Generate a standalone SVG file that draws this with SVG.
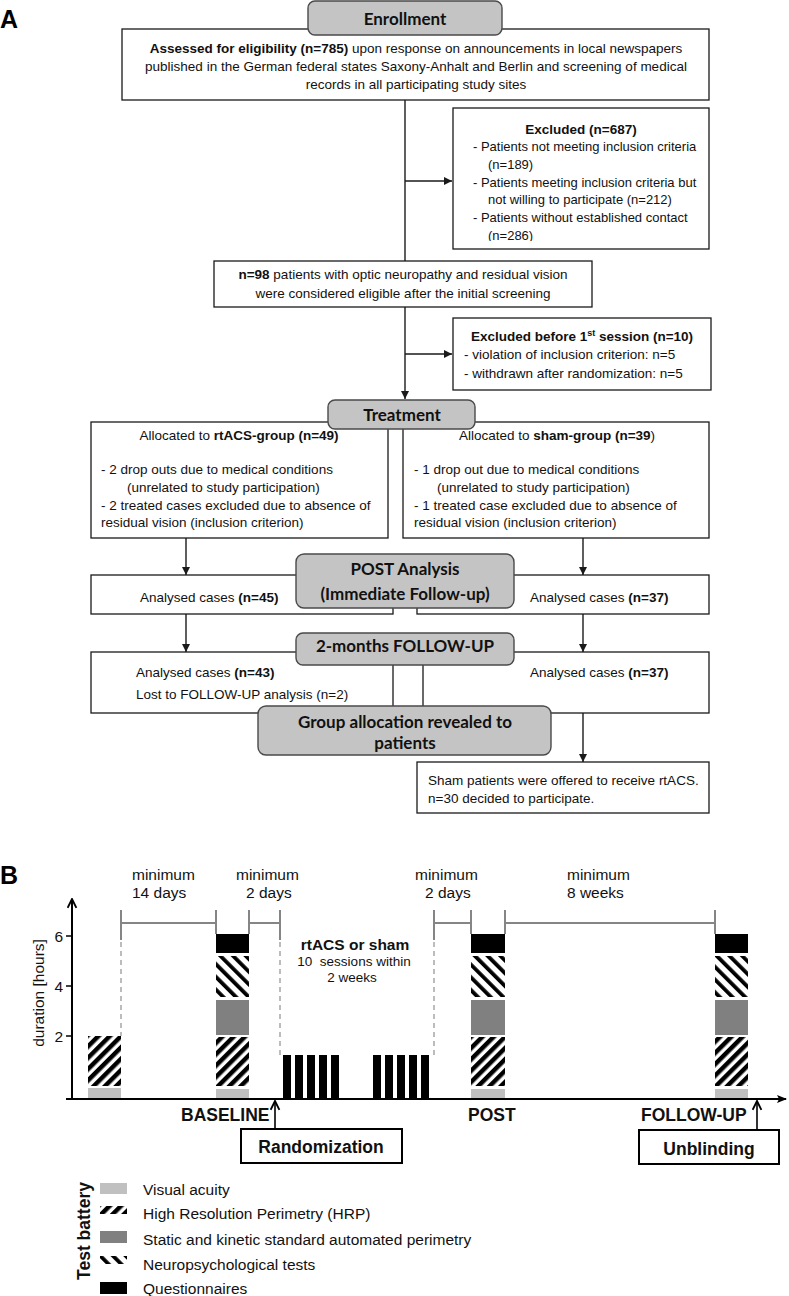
<svg xmlns="http://www.w3.org/2000/svg" width="789" height="1296" viewBox="0 0 789 1296">
<style>
.t{font-family:"Liberation Sans",Arial,sans-serif;font-size:13.5px;fill:#111}
.ts{font-family:"Liberation Sans",Arial,sans-serif;font-size:13px;fill:#111}
.b{font-weight:bold}
.m{text-anchor:middle}
.h{font-family:Lato,"Open Sans",sans-serif;font-weight:700;font-size:17px;fill:#111;text-anchor:middle}
.box{fill:#fff;stroke:#1a1a1a;stroke-width:1.3}
.gbox{fill:#c4c4c4;stroke:#4a4a4a;stroke-width:1.4}
.con line{stroke:#1a1a1a;stroke-width:1.4;fill:none}
.l15{font-family:"Liberation Sans",Arial,sans-serif;font-size:15.5px;fill:#111}
.lb{font-family:"Liberation Sans",Arial,sans-serif;font-size:17.5px;font-weight:bold;fill:#111}
.brk{stroke:#858585;stroke-width:2;fill:none}
.dash{stroke:#a6a6a6;stroke-width:1.5;stroke-dasharray:5 4;fill:none}
</style>
<defs>
<marker id="ah" viewBox="0 0 10 10" refX="10" refY="5" markerWidth="8" markerHeight="8" orient="auto" markerUnits="userSpaceOnUse"><path d="M0,0 L10,5 L0,10 z" fill="#1a1a1a"/></marker>
<marker id="chev" viewBox="0 0 10 10" refX="9" refY="5" markerWidth="11" markerHeight="11" orient="auto" markerUnits="userSpaceOnUse"><path d="M1,1 L9,5 L1,9" fill="none" stroke="#000" stroke-width="1.7"/></marker>
<marker id="tri" viewBox="0 0 10 10" refX="9" refY="5" markerWidth="10" markerHeight="10" orient="auto" markerUnits="userSpaceOnUse"><path d="M0,1 L10,5 L0,9 L2,5 z" fill="#000"/></marker>
<pattern id="hrp" width="8" height="8" patternUnits="userSpaceOnUse" patternTransform="rotate(45)"><rect width="4.5" height="8" fill="#000"/></pattern>
<pattern id="neuro" width="9" height="9" patternUnits="userSpaceOnUse" patternTransform="rotate(-45)"><rect width="3.8" height="9" fill="#000"/></pattern>
<clipPath id="exclip"><rect x="453" y="108" width="256" height="133"/></clipPath>
</defs>
<rect width="789" height="1296" fill="#fff"/>

<text x="0" y="28" font-family="Liberation Sans,Arial,sans-serif" font-size="25" font-weight="bold" fill="#000">A</text>

<g id="assessed">
<rect class="box" x="122" y="29" width="587" height="71"/>
<text class="t m" x="416" y="53"><tspan class="b">Assessed for eligibility (n=785)</tspan> upon response on announcements in local newspapers</text>
<text class="t m" x="416" y="71">published in the German federal states Saxony-Anhalt and Berlin and screening of medical</text>
<text class="t m" x="416" y="89">records in all participating study sites</text>
</g>
<g id="enrollment">
<rect class="gbox" x="308" y="1" width="194" height="34" rx="7"/>
<text class="h" x="405" y="25">Enrollment</text>
</g>

<g id="excluded">
<rect class="box" x="453" y="108" width="256" height="141"/>
<text class="t b m" x="581" y="134">Excluded (n=687)</text>
<g clip-path="url(#exclip)">
<text class="ts" x="473" y="151">- Patients not meeting inclusion criteria</text>
<text class="ts" x="488" y="169">(n=189)</text>
<text class="ts" x="473" y="187">- Patients meeting inclusion criteria but</text>
<text class="ts" x="488" y="204">not willing to participate (n=212)</text>
<text class="ts" x="473" y="222">- Patients without established contact</text>
<text class="ts" x="488" y="240">(n=286)</text>
</g>
</g>

<g id="eligible">
<rect class="box" x="214" y="261" width="378" height="46"/>
<text class="t m" x="403" y="279"><tspan class="b">n=98</tspan> patients with optic neuropathy and residual vision</text>
<text class="t m" x="403" y="298">were considered eligible after the initial screening</text>
</g>

<g id="excluded-before">
<rect class="box" x="453" y="318" width="258" height="72"/>
<text class="t b m" x="582" y="341">Excluded before 1<tspan font-size="9" dy="-5">st</tspan><tspan dy="5"> session (n=10)</tspan></text>
<text class="t" x="464" y="359">- violation of inclusion criterion: n=5</text>
<text class="t" x="464" y="378">- withdrawn after randomization: n=5</text>
</g>

<g id="rtacs-group">
<rect class="box" x="91" y="422" width="297" height="116"/>
<text class="t m" x="239" y="440">Allocated to <tspan class="b">rtACS-group (n=49)</tspan></text>
<text class="t" x="101" y="474">- 2 drop outs due to medical conditions</text>
<text class="t" x="127" y="492">(unrelated to study participation)</text>
<text class="t" x="101" y="510">- 2 treated cases excluded due to absence of</text>
<text class="t" x="101" y="527">residual vision (inclusion criterion)</text>
</g>
<g id="sham-group">
<rect class="box" x="403" y="422" width="306" height="116"/>
<text class="t m" x="557" y="440">Allocated to <tspan class="b">sham-group (n=39</tspan>)</text>
<text class="t" x="414" y="474">- 1 drop out due to medical conditions</text>
<text class="t" x="437" y="492">(unrelated to study participation)</text>
<text class="t" x="414" y="510">- 1 treated case excluded due to absence of</text>
<text class="t" x="414" y="527">residual vision (inclusion criterion)</text>
</g>
<g id="treatment">
<rect class="gbox" x="328" y="400" width="147" height="29" rx="7"/>
<text class="h" x="402" y="421">Treatment</text>
</g>

<g id="analysed-post-rtacs">
<rect class="box" x="91" y="575" width="302" height="39"/>
<text class="t" x="140" y="602">Analysed cases <tspan class="b">(n=45)</tspan></text>
</g>
<g id="analysed-post-sham">
<rect class="box" x="417" y="575" width="292" height="39"/>
<text class="t" x="530" y="602">Analysed cases <tspan class="b">(n=37)</tspan></text>
</g>
<g id="post-analysis">
<rect class="gbox" x="296" y="554" width="218" height="54" rx="8"/>
<text class="h" x="405" y="575">POST Analysis</text>
<text class="h" x="405" y="600">(Immediate Follow-up)</text>
</g>

<g id="followup-rtacs">
<rect class="box" x="91" y="652" width="302" height="61"/>
<text class="t" x="136" y="677">Analysed cases <tspan class="b">(n=43)</tspan></text>
<text class="t" x="136" y="699">Lost to FOLLOW-UP analysis (n=2)</text>
</g>
<g id="followup-sham">
<rect class="box" x="423" y="652" width="286" height="61"/>
<text class="t" x="530" y="677">Analysed cases <tspan class="b">(n=37)</tspan></text>
</g>
<g id="followup-header">
<rect class="gbox" x="296" y="633" width="218" height="32" rx="7"/>
<text class="h" x="405" y="652">2-months FOLLOW-UP</text>
</g>
<g id="revealed">
<rect class="gbox" x="258" y="706" width="293" height="49" rx="8"/>
<text class="h" x="405" y="728">Group allocation revealed to</text>
<text class="h" x="405" y="749">patients</text>
</g>
<g id="offered">
<rect class="box" x="417" y="762" width="292" height="51"/>
<text class="t" x="428" y="785">Sham patients were offered to receive rtACS.</text>
<text class="t" x="428" y="803">n=30 decided to participate.</text>
</g>

<g id="connectors" class="con">
<line x1="405" y1="100" x2="405" y2="261"/>
<line x1="405" y1="181" x2="452" y2="181" marker-end="url(#ah)"/>
<line x1="405" y1="307" x2="405" y2="399" marker-end="url(#ah)"/>
<line x1="405" y1="354" x2="452" y2="354" marker-end="url(#ah)"/>
<line x1="186" y1="538" x2="186" y2="575" marker-end="url(#ah)"/>
<line x1="583" y1="538" x2="583" y2="575" marker-end="url(#ah)"/>
<line x1="186" y1="614" x2="186" y2="652" marker-end="url(#ah)"/>
<line x1="583" y1="614" x2="583" y2="652" marker-end="url(#ah)"/>
<line x1="583" y1="713" x2="583" y2="762" marker-end="url(#ah)"/>
</g>

<!-- Part B -->
<text x="0" y="884" font-family="Liberation Sans,Arial,sans-serif" font-size="25" font-weight="bold" fill="#000">B</text>
<g id="interval-labels" class="l15">
<text x="132" y="880">minimum</text><text x="132" y="898">14 days</text>
<text x="236" y="880">minimum</text><text x="246" y="898">2 days</text>
<text x="415" y="880">minimum</text><text x="425" y="898">2 days</text>
<text x="567" y="880">minimum</text><text x="567" y="898">8 weeks</text>
</g>
<g id="intervals">
<path class="brk" d="M121,910 V940 M121,923 H216 M216,910 V934 M249,910 V934 M249,923 H280 M280,910 V940"/>
<path class="brk" d="M434,910 V940 M434,923 H471 M471,910 V934 M505,910 V934 M505,923 H715 M715,910 V934"/>
<path class="dash" d="M121,942 V1036 M280,942 V1055 M434,942 V1055"/>
</g>
<g id="treatment-label">
<text class="l15 b m" x="355" y="950">rtACS or sham</text>
<text class="t m" x="354" y="966" xml:space="preserve">10  sessions within</text>
<text class="t m" x="352" y="982">2 weeks</text>
</g>
<g id="bar-screening">
<rect x="88" y="1036" width="33" height="50" fill="url(#hrp)"/>
<rect x="88" y="1088" width="33" height="10" fill="#c0c0c0"/>
</g>
<g id="bar-baseline">
<rect x="216" y="934" width="33" height="19" fill="#000"/>
<rect x="216" y="956" width="33" height="41" fill="url(#neuro)"/>
<rect x="216" y="1000" width="33" height="35" fill="#808080"/>
<rect x="216" y="1037" width="33" height="49" fill="url(#hrp)"/>
<rect x="216" y="1089" width="33" height="9" fill="#c0c0c0"/>
</g>
<g id="bar-post">
<rect x="471" y="934" width="34" height="19" fill="#000"/>
<rect x="471" y="956" width="34" height="41" fill="url(#neuro)"/>
<rect x="471" y="1000" width="34" height="35" fill="#808080"/>
<rect x="471" y="1037" width="34" height="49" fill="url(#hrp)"/>
<rect x="471" y="1089" width="34" height="9" fill="#c0c0c0"/>
</g>
<g id="bar-followup">
<rect x="715" y="934" width="33" height="19" fill="#000"/>
<rect x="715" y="956" width="33" height="41" fill="url(#neuro)"/>
<rect x="715" y="1000" width="33" height="35" fill="#808080"/>
<rect x="715" y="1037" width="33" height="49" fill="url(#hrp)"/>
<rect x="715" y="1089" width="33" height="9" fill="#c0c0c0"/>
</g>
<g id="sessions" fill="#000">
<rect x="283" y="1055" width="8" height="44"/><rect x="295" y="1055" width="8" height="44"/><rect x="307" y="1055" width="8" height="44"/><rect x="319" y="1055" width="8" height="44"/><rect x="331" y="1055" width="8" height="44"/>
<rect x="373" y="1055" width="8" height="44"/><rect x="385" y="1055" width="8" height="44"/><rect x="397" y="1055" width="8" height="44"/><rect x="409" y="1055" width="8" height="44"/><rect x="421" y="1055" width="8" height="44"/>
</g>
<g id="axes">
<line x1="72" y1="1099" x2="72" y2="899" stroke="#000" stroke-width="2" marker-end="url(#chev)"/>
<line x1="66" y1="1099" x2="786" y2="1099" stroke="#000" stroke-width="2" marker-end="url(#tri)"/>
<path d="M66,936 H72 M66,986 H72 M66,1036 H72" stroke="#000" stroke-width="1.3"/>
<text class="l15" x="63" y="942" text-anchor="end">6</text>
<text class="l15" x="63" y="992" text-anchor="end">4</text>
<text class="l15" x="63" y="1042" text-anchor="end">2</text>
<text class="l15 m" transform="translate(44,993) rotate(-90)">duration [hours]</text>
</g>
<g id="timepoints">
<text class="lb" x="181" y="1121">BASELINE</text>
<text class="lb" x="468" y="1121">POST</text>
<text class="lb" x="641" y="1121">FOLLOW-UP</text>
</g>
<g id="randomization">
<line x1="275" y1="1129" x2="275" y2="1101" stroke="#000" stroke-width="1.6" marker-end="url(#chev)"/>
<rect x="241" y="1129" width="161" height="34" fill="#fff" stroke="#000" stroke-width="2"/>
<text class="lb m" x="321" y="1153" font-size="17">Randomization</text>
</g>
<g id="unblinding">
<line x1="757" y1="1130" x2="757" y2="1101" stroke="#000" stroke-width="1.6" marker-end="url(#chev)"/>
<rect x="639" y="1130" width="140" height="34" fill="#fff" stroke="#000" stroke-width="2"/>
<text class="lb m" x="709" y="1155" font-size="17">Unblinding</text>
</g>
<g id="legend">
<text class="lb m" font-size="17" transform="translate(90,1231) rotate(-90)">Test battery</text>
<rect x="100" y="1183" width="27" height="11" fill="#c0c0c0"/>
<rect x="100" y="1206" width="27" height="8" fill="url(#hrp)"/>
<rect x="100" y="1231" width="27" height="12" fill="#808080"/>
<rect x="100" y="1256" width="27" height="8" fill="url(#neuro)"/>
<rect x="100" y="1282" width="27" height="12" fill="#000"/>
<text class="l15" x="143" y="1195">Visual acuity</text>
<text class="l15" x="143" y="1219">High Resolution Perimetry (HRP)</text>
<text class="l15" x="143" y="1245">Static and kinetic standard automated perimetry</text>
<text class="l15" x="143" y="1270">Neuropsychological tests</text>
<text class="l15" x="143" y="1294">Questionnaires</text>
</g>
</svg>
